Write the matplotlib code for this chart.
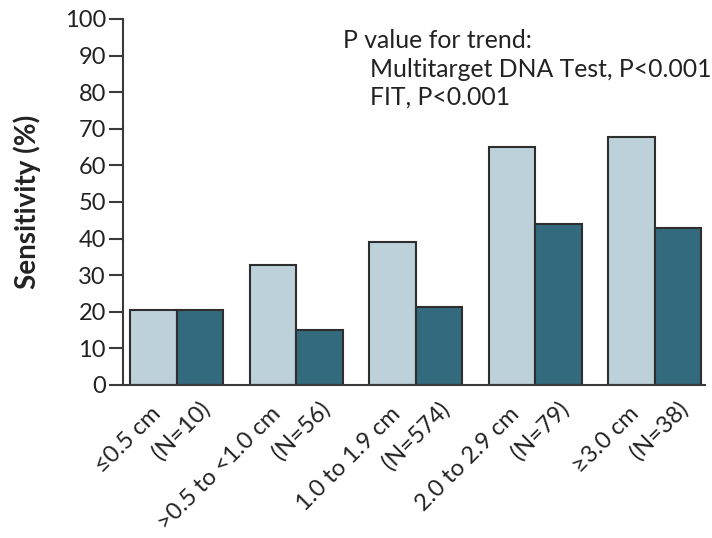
import numpy as np
import matplotlib
matplotlib.use("Agg")
import matplotlib.pyplot as plt
from matplotlib.transforms import offset_copy

plt.rcParams["font.family"] = ["Lato", "DejaVu Sans"]

# Sensitivity by lesion size
size_labels = ["≤0.5 cm", ">0.5 to <1.0 cm", "1.0 to 1.9 cm", "2.0 to 2.9 cm", "≥3.0 cm"]
n_labels = ["(N=10)", "(N=56)", "(N=574)", "(N=79)", "(N=38)"]
dna_test = [20.5, 32.9, 39.2, 65.1, 67.7]
fit_test = [20.5, 14.9, 21.4, 44.0, 42.9]
y_ticks = [0, 10, 20, 30, 40, 50, 60, 70, 80, 90, 100]

light = "#bcd1da"
dark = "#346a7e"
edge = "#2e2e2e"
txt = "#222222"

fig = plt.figure(figsize=(7.12, 5.38), dpi=100)
ax = fig.add_axes([0.1723, 0.2844, 0.8177, 0.6803])

x = np.arange(len(size_labels))
w = 0.39
ax.bar(x - w / 2, dna_test, w, color=light, edgecolor=edge, linewidth=1.5)
ax.bar(x + w / 2, fit_test, w, color=dark, edgecolor=edge, linewidth=1.5)

ax.set_xlim(-0.454, 4.42)
ax.set_ylim(0, 100)
ax.set_yticks(y_ticks)
ax.set_yticklabels([str(t) for t in y_ticks], fontsize=17, color=txt)
ax.set_xticks([])

for side in ["top", "right"]:
    ax.spines[side].set_visible(False)
for side in ["left", "bottom"]:
    ax.spines[side].set_color("#3a3a3a")
    ax.spines[side].set_linewidth(1.5)
ax.tick_params(axis="y", length=10, width=1.5, color="#3a3a3a", pad=2)

ax.set_ylabel("Sensitivity (%)", fontsize=20, fontweight="bold", color=txt)
ax.yaxis.set_label_coords(-0.14, 0.5)

# two-line rotated category labels (size line, then N line offset below-right)
for i in range(len(size_labels)):
    t1 = offset_copy(ax.get_xaxis_transform(), fig=fig, x=-13.7, y=-18.4, units="points")
    ax.text(x[i], 0, size_labels[i], transform=t1, rotation=45, rotation_mode="anchor",
            ha="right", va="center", fontsize=17, color=txt)
    t2 = offset_copy(ax.get_xaxis_transform(), fig=fig, x=21.6, y=-14.8, units="points")
    ax.text(x[i], 0, n_labels[i], transform=t2, rotation=45, rotation_mode="anchor",
            ha="right", va="center", fontsize=17, color=txt)

# trend annotation
fig.text(343 / 712, 1 - 48 / 538, "P value for trend:", fontsize=17.8, color=txt, va="baseline")
fig.text(370 / 712, 1 - 77 / 538, "Multitarget DNA Test, P<0.001", fontsize=17.8, color=txt, va="baseline")
fig.text(370 / 712, 1 - 105 / 538, "FIT, P<0.001", fontsize=17.8, color=txt, va="baseline")

fig.savefig("out.png", dpi=100)
